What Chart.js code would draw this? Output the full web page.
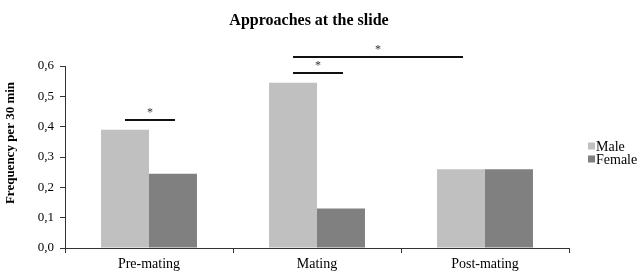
<!DOCTYPE html>
<html>
<head>
<meta charset="utf-8">
<script src="https://cdn.jsdelivr.net/npm/chart.js@4"></script>
<style>
  html, body { margin: 0; padding: 0; background: #fff; }
  #wrap { width: 641px; height: 273px; }
</style>
</head>
<body>
<div id="wrap"><canvas id="chart"></canvas></div>
<script>
// --- data ---
const phases = ['Pre-mating', 'Mating', 'Post-mating'];
const maleValues = [0.39, 0.545, 0.26];
const femaleValues = [0.245, 0.13, 0.26];
const yTicks = [0, 0.1, 0.2, 0.3, 0.4, 0.5, 0.6];

// significance bars: [dataset, category] of each end, and the level they sit at
const sigFrom = [[0, 0], [0, 1], [0, 1]];
const sigTo = [[1, 0], [1, 1], [0, 2]];
const sigLevels = [0.422, 0.578, 0.63];
const sigMarks = ['*', '*', '*'];

const serif = '"Liberation Serif", "Times New Roman", serif';

// draws title, y-axis title, legend and the significance bars
const extras = {
    id: 'extras',
    afterDraw(chart) {
        const ctx = chart.ctx;
        const area = chart.chartArea;
        const y = chart.scales.y;
        ctx.save();

        // title
        ctx.fillStyle = '#000';
        ctx.font = 'bold 16px ' + serif;
        ctx.textAlign = 'center';
        ctx.textBaseline = 'middle';
        ctx.fillText('Approaches at the slide', 309, 21);

        // y axis title
        ctx.save();
        ctx.translate(11, 143);
        ctx.rotate(-Math.PI / 2);
        ctx.font = 'bold 13px ' + serif;
        ctx.fillText('Frequency per 30 min', 0, 0);
        ctx.restore();

        // legend
        const lx = area.right + 19;
        const ly = 146;
        chart.data.datasets.forEach((ds, i) => {
            const yy = ly + i * 13;
            ctx.fillStyle = ds.backgroundColor;
            ctx.fillRect(lx, yy - 3.5, 7, 7);
            ctx.fillStyle = '#000';
            ctx.font = '14px ' + serif;
            ctx.textAlign = 'left';
            ctx.fillText(ds.label, lx + 8, yy + 1);
        });

        // significance bars
        ctx.strokeStyle = '#111';
        ctx.lineWidth = 2;
        sigLevels.forEach((lvl, i) => {
            const a = chart.getDatasetMeta(sigFrom[i][0]).data[sigFrom[i][1]];
            const b = chart.getDatasetMeta(sigTo[i][0]).data[sigTo[i][1]];
            const py = Math.round(y.getPixelForValue(lvl));
            ctx.beginPath();
            ctx.moveTo(a.x, py);
            ctx.lineTo(b.x + 2, py);
            ctx.stroke();
            ctx.fillStyle = '#333';
            ctx.font = '12px ' + serif;
            ctx.textAlign = 'center';
            ctx.textBaseline = 'bottom';
            ctx.fillText(sigMarks[i], (a.x + b.x) / 2 + 1, py - 1);
        });
        ctx.restore();
    }
};

new Chart(document.getElementById('chart'), {
    type: 'bar',
    data: {
        labels: phases,
        datasets: [
            { label: 'Male', data: maleValues, backgroundColor: '#c0c0c0' },
            { label: 'Female', data: femaleValues, backgroundColor: '#808080' }
        ]
    },
    options: {
        responsive: true,
        maintainAspectRatio: false,
        animation: false,
        categoryPercentage: 0.571,
        barPercentage: 1,
        layout: { padding: { top: 66, right: 72, left: 0, bottom: 0 } },
        plugins: {
            legend: { display: false },
            title: { display: false },
            tooltip: { enabled: false }
        },
        scales: {
            x: {
                afterFit: s => { s.height = 25; },
                border: { color: '#333', width: 1 },
                grid: { drawOnChartArea: false, tickLength: 5, color: '#333' },
                ticks: { color: '#000', font: { family: serif, size: 14 }, padding: 3 }
            },
            y: {
                min: 0,
                max: 0.6,
                afterFit: s => { s.width = 65; },
                afterBuildTicks: s => { s.ticks = yTicks.map(v => ({ value: v })); },
                border: { color: '#333', width: 1 },
                grid: { drawOnChartArea: false, tickLength: 5, color: '#333' },
                ticks: {
                    color: '#000',
                    font: { family: serif, size: 13 },
                    padding: 6,
                    callback: v => v.toFixed(1).replace('.', ',')
                }
            }
        }
    },
    plugins: [extras]
});
</script>
</body>
</html>
